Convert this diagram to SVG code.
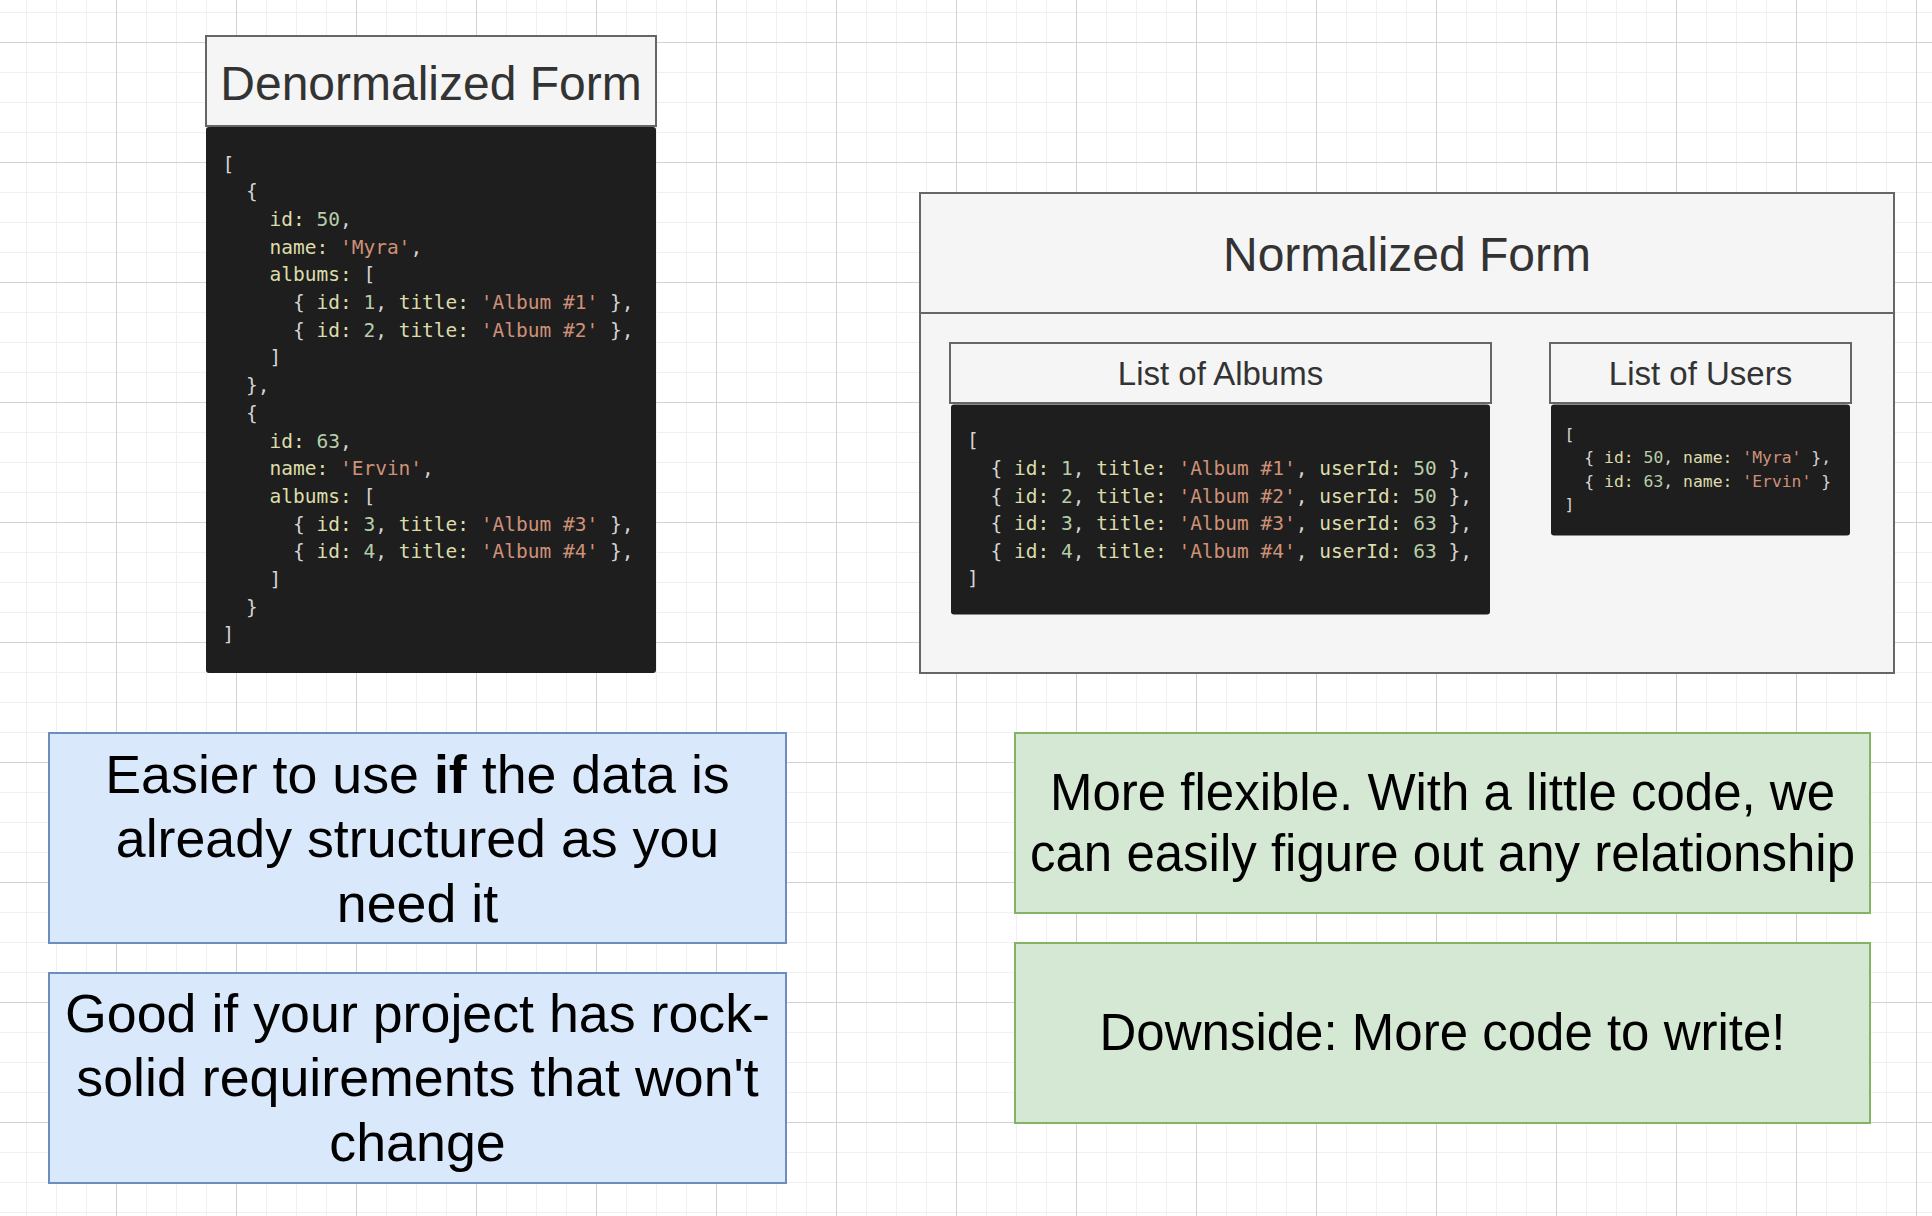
<svg xmlns="http://www.w3.org/2000/svg" width="1932" height="1216" viewBox="0 0 1932 1216">
<defs>
<pattern id="grid" patternUnits="userSpaceOnUse" x="116" y="42" width="120" height="120">
<path d="M0.5 0V120M30.5 0V120M60.5 0V120M90.5 0V120M0 0.5H120M0 30.5H120M0 60.5H120M0 90.5H120" stroke="#f0f0f0" stroke-width="1" fill="none"/>
<path d="M0.5 0V120M0 0.5H120" stroke="#d3d3d3" stroke-width="1" fill="none"/>
</pattern>
</defs>
<style>
.title{font-family:"Liberation Sans",Arial,Helvetica,sans-serif;fill:#333333;text-anchor:middle}
.hdr{fill:#f5f5f5;stroke:#666666;stroke-width:2}
.dark{fill:#1e1e1e}
.code text{font-family:"DejaVu Sans Mono",Menlo,monospace;fill:#d4d4d4;white-space:pre}
.c1 text{font-size:19.5px}
.c2 text{font-size:16.4px}
.k{fill:#dcdcaa}
.n{fill:#b5cea8}
.s{fill:#ce9178}
.blue{fill:#dae8fc;stroke:#6c8ebf;stroke-width:2}
.green{fill:#d5e8d4;stroke:#82b366;stroke-width:2}
.note{font-family:"Liberation Sans",Arial,Helvetica,sans-serif;fill:#000000;text-anchor:middle}
</style>
<rect width="1932" height="1216" fill="#ffffff"/>
<rect width="1932" height="1216" fill="url(#grid)"/>

<g id="denormalized">
<rect class="hdr" x="206" y="36" width="450" height="90"/>
<text class="title" x="431" y="100" font-size="48">Denormalized Form</text>
<rect class="dark" x="206" y="127" width="450" height="546" rx="3"/>
<g class="code c1">
<text xml:space="preserve" x="222.5" y="170.5">[</text>
<text xml:space="preserve" x="222.5" y="198.2">  {</text>
<text xml:space="preserve" x="222.5" y="225.9">    <tspan class="k">id:</tspan> <tspan class="n">50</tspan>,</text>
<text xml:space="preserve" x="222.5" y="253.6">    <tspan class="k">name:</tspan> <tspan class="s">'Myra'</tspan>,</text>
<text xml:space="preserve" x="222.5" y="281.3">    <tspan class="k">albums:</tspan> [</text>
<text xml:space="preserve" x="222.5" y="309">      { <tspan class="k">id:</tspan> <tspan class="n">1</tspan>, <tspan class="k">title:</tspan> <tspan class="s">'Album #1'</tspan> },</text>
<text xml:space="preserve" x="222.5" y="336.7">      { <tspan class="k">id:</tspan> <tspan class="n">2</tspan>, <tspan class="k">title:</tspan> <tspan class="s">'Album #2'</tspan> },</text>
<text xml:space="preserve" x="222.5" y="364.4">    ]</text>
<text xml:space="preserve" x="222.5" y="392.1">  },</text>
<text xml:space="preserve" x="222.5" y="419.8">  {</text>
<text xml:space="preserve" x="222.5" y="447.5">    <tspan class="k">id:</tspan> <tspan class="n">63</tspan>,</text>
<text xml:space="preserve" x="222.5" y="475.2">    <tspan class="k">name:</tspan> <tspan class="s">'Ervin'</tspan>,</text>
<text xml:space="preserve" x="222.5" y="502.9">    <tspan class="k">albums:</tspan> [</text>
<text xml:space="preserve" x="222.5" y="530.6">      { <tspan class="k">id:</tspan> <tspan class="n">3</tspan>, <tspan class="k">title:</tspan> <tspan class="s">'Album #3'</tspan> },</text>
<text xml:space="preserve" x="222.5" y="558.3">      { <tspan class="k">id:</tspan> <tspan class="n">4</tspan>, <tspan class="k">title:</tspan> <tspan class="s">'Album #4'</tspan> },</text>
<text xml:space="preserve" x="222.5" y="586">    ]</text>
<text xml:space="preserve" x="222.5" y="613.7">  }</text>
<text xml:space="preserve" x="222.5" y="641.4">]</text>
</g>
</g>

<g id="normalized">
<rect class="hdr" x="920" y="193" width="974" height="480"/>
<line x1="920" y1="313" x2="1894" y2="313" stroke="#666666" stroke-width="2"/>
<text class="title" x="1407" y="271" font-size="48">Normalized Form</text>
</g>

<g id="albums">
<rect class="hdr" x="950" y="343" width="541" height="60"/>
<text class="title" x="1220.5" y="385" font-size="33">List of Albums</text>
<rect class="dark" x="951" y="404.5" width="539" height="210" rx="3"/>
<g class="code c1">
<text xml:space="preserve" x="967" y="447.3">[</text>
<text xml:space="preserve" x="967" y="475">  { <tspan class="k">id:</tspan> <tspan class="n">1</tspan>, <tspan class="k">title:</tspan> <tspan class="s">'Album #1'</tspan>, <tspan class="k">userId:</tspan> <tspan class="n">50</tspan> },</text>
<text xml:space="preserve" x="967" y="502.7">  { <tspan class="k">id:</tspan> <tspan class="n">2</tspan>, <tspan class="k">title:</tspan> <tspan class="s">'Album #2'</tspan>, <tspan class="k">userId:</tspan> <tspan class="n">50</tspan> },</text>
<text xml:space="preserve" x="967" y="530.4">  { <tspan class="k">id:</tspan> <tspan class="n">3</tspan>, <tspan class="k">title:</tspan> <tspan class="s">'Album #3'</tspan>, <tspan class="k">userId:</tspan> <tspan class="n">63</tspan> },</text>
<text xml:space="preserve" x="967" y="558.1">  { <tspan class="k">id:</tspan> <tspan class="n">4</tspan>, <tspan class="k">title:</tspan> <tspan class="s">'Album #4'</tspan>, <tspan class="k">userId:</tspan> <tspan class="n">63</tspan> },</text>
<text xml:space="preserve" x="967" y="585">]</text>
</g>
</g>

<g id="users">
<rect class="hdr" x="1550" y="343" width="301" height="60"/>
<text class="title" x="1700.5" y="384.5" font-size="33">List of Users</text>
<rect class="dark" x="1551" y="404.5" width="299" height="131" rx="3"/>
<g class="code c2">
<text xml:space="preserve" x="1564.6" y="440">[</text>
<text xml:space="preserve" x="1564.6" y="463.3">  { <tspan class="k">id:</tspan> <tspan class="n">50</tspan>, <tspan class="k">name:</tspan> <tspan class="s">'Myra'</tspan> },</text>
<text xml:space="preserve" x="1564.6" y="486.6">  { <tspan class="k">id:</tspan> <tspan class="n">63</tspan>, <tspan class="k">name:</tspan> <tspan class="s">'Ervin'</tspan> }</text>
<text xml:space="preserve" x="1564.6" y="510">]</text>
</g>
</g>

<g id="note-easier">
<rect class="blue" x="49" y="733" width="737" height="210"/>
<text class="note" font-size="53.75"><tspan x="417.5" y="792.7">Easier to use <tspan font-weight="bold">if</tspan> the data is</tspan><tspan x="417.5" y="857.2">already structured as you</tspan><tspan x="417.5" y="921.7">need it</tspan></text>
</g>

<g id="note-good">
<rect class="blue" x="49" y="973" width="737" height="210"/>
<text class="note" font-size="53.75"><tspan x="417.5" y="1031.7">Good if your project has rock-</tspan><tspan x="417.5" y="1096.2">solid requirements that won't</tspan><tspan x="417.5" y="1160.7">change</tspan></text>
</g>

<g id="note-flexible">
<rect class="green" x="1015" y="733" width="855" height="180"/>
<text class="note" font-size="51"><tspan x="1442.5" y="809.5">More flexible. With a little code, we</tspan><tspan x="1442.5" y="870.5">can easily figure out any relationship</tspan></text>
</g>

<g id="note-downside">
<rect class="green" x="1015" y="943" width="855" height="180"/>
<text class="note" font-size="51" x="1442.5" y="1050">Downside: More code to write!</text>
</g>

<g id="connectors"/>
</svg>
